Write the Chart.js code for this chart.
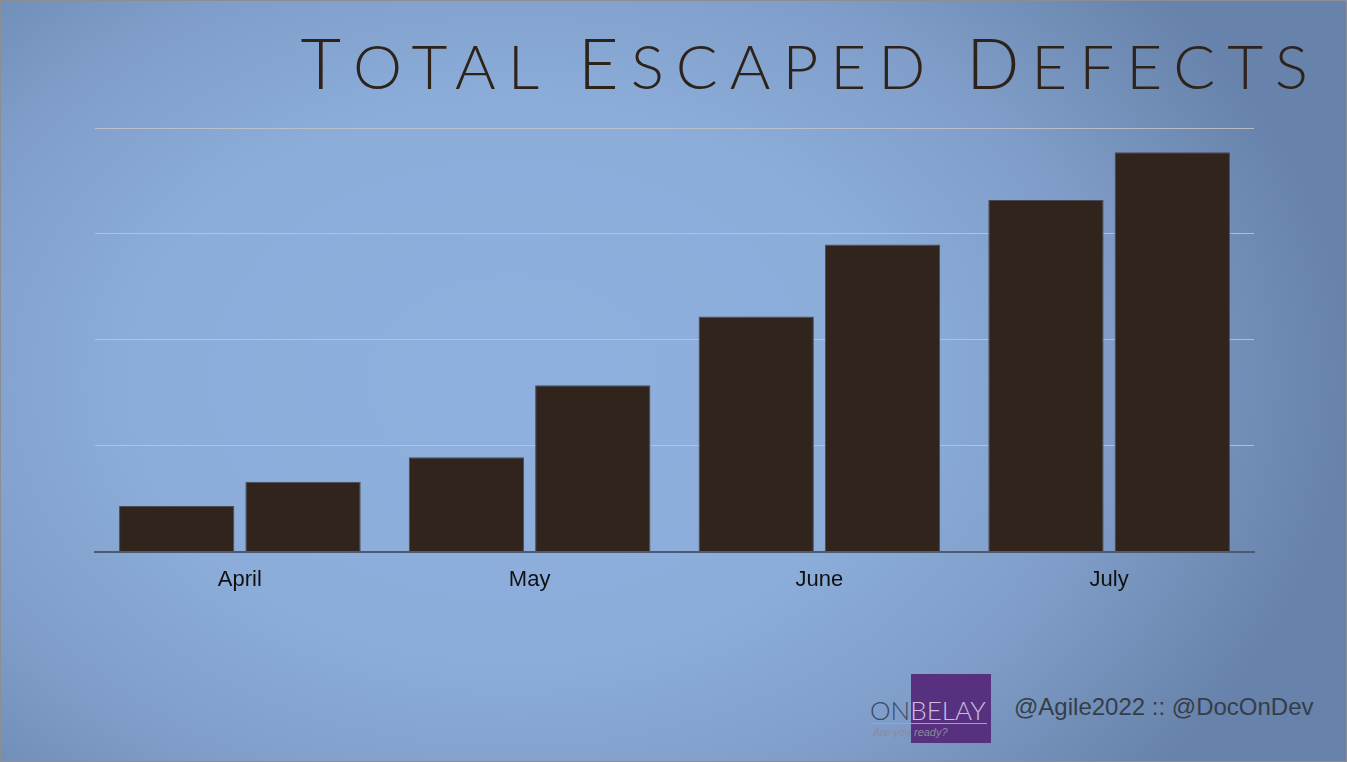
<!DOCTYPE html>
<html lang="en">
<head>
  <meta charset="UTF-8" />
  <title>Total Escaped Defects</title>
  <script src="https://cdn.jsdelivr.net/npm/chart.js"></script>
  <style>
    html, body { margin: 0; padding: 0; }
    body {
      width: 1347px; height: 762px; overflow: hidden; position: relative;
      box-sizing: border-box; border: 1px solid #8a8f96;
      background: radial-gradient(ellipse 62% 80% at 38% 50%, #8fb0de 0%, #8cadda 45%, #7f9dc8 72%, #6783ab 100%);
      font-family: "Liberation Sans", Arial, sans-serif;
    }
    #title {
      position: absolute; right: 26px; top: 26px; margin: 0;
      font-family: Lato, "Open Sans", sans-serif; font-weight: 300;
      text-transform: uppercase; font-size: 62px; letter-spacing: 12px;
      color: #2e231b; white-space: nowrap; line-height: 1;
    }
    #title .cap { font-size: 70px; }
    #chartBox { position: absolute; left: 0; top: 0; width: 1347px; height: 599px; }
    #logo { position: absolute; left: 868px; top: 673px; width: 124px; height: 70px; }
    #logo .sq { position: absolute; left: 42px; top: 0; width: 80px; height: 69px; background: #57307f; }
    #logo .on { position: absolute; left: 1px; top: 20px; font-family: Lato, sans-serif; font-weight: 300; font-size: 26px; color: #3a4a60; }
    #logo .on span { color: #cbbde2; }
    #logo .rule { position: absolute; left: 2px; top: 49px; width: 116px; height: 1px; background: #a99bc8; }
    #logo .tag { position: absolute; left: 4px; top: 52px; font-size: 11px; font-style: italic; color: #8d8a9e; }
    #handle {
      position: absolute; left: 1013px; top: 692px; font-size: 24px;
      font-family: "Liberation Sans", Arial, sans-serif; color: #363d48;
    }
  </style>
</head>
<body>
  <h1 id="title"><span class="cap">T</span>otal <span class="cap">E</span>scaped <span class="cap">D</span>efects</h1>
  <div id="chartBox"><canvas id="defectsChart"></canvas></div>

  <div id="logo">
    <div class="sq"></div>
    <div class="on">ON<span>BELAY</span></div>
    <div class="rule"></div>
    <div class="tag">Are you ready?</div>
  </div>
  <div id="handle">@Agile2022 :: @DocOnDev</div>

  <script>
    // two counts per month
    const months = ['April', 'May', 'June', 'July'];
    const firstCount = [4.3, 8.9, 22.2, 33.2];
    const secondCount = [6.6, 15.7, 29.0, 37.7];
    const yTicks = [0, 10, 20, 30, 40];

    const barColor = '#30241c';

    function barSet(label, values) {
      return {
        label: label, data: values,
        backgroundColor: barColor, borderColor: '#4a4c55', borderWidth: 1,
        categoryPercentage: 0.872, barPercentage: 0.913
      };
    }

    new Chart(document.getElementById('defectsChart'), {
      type: 'bar',
      data: {
        labels: months,
        datasets: [barSet('First', firstCount), barSet('Second', secondCount)]
      },
      options: {
        responsive: true,
        maintainAspectRatio: false,
        animation: false,
        layout: { padding: { left: 94, right: 94, top: 127, bottom: 0 } },
        plugins: { legend: { display: false }, tooltip: { enabled: false } },
        scales: {
          x: {
            grid: { display: false },
            border: { display: true, color: '#4d5b70', width: 2, z: 1 },
            ticks: { color: '#111', font: { family: 'Liberation Sans', size: 22 }, padding: 7 }
          },
          y: {
            min: yTicks[0],
            max: yTicks[yTicks.length - 1],
            afterBuildTicks: axis => { axis.ticks = yTicks.map(v => ({ value: v })); },
            ticks: { display: false },
            border: { display: false },
            grid: { color: 'rgba(196,196,202,0.85)', lineWidth: 1, drawTicks: false }
          }
        }
      }
    });
  </script>
</body>
</html>
